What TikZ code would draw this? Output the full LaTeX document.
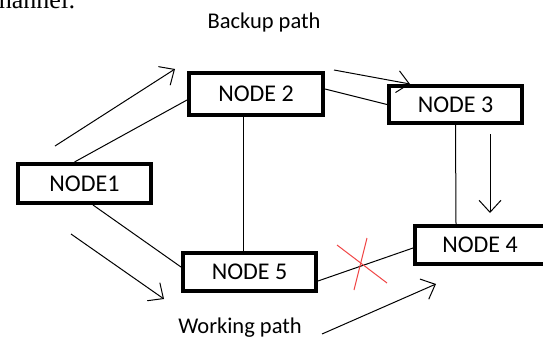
\documentclass[tikz,border=0pt]{standalone}
\usepackage{fontspec}
\setmainfont{Carlito}
\newfontfamily\pageserif{Liberation Serif}
\usetikzlibrary{arrows.meta}
\definecolor{crossred}{RGB}{240,70,70}
\tikzset{
  nodebox/.style={draw, line width=4pt, inner sep=0pt, font=\fontsize{24}{28}\selectfont},
  pathlabel/.style={font=\fontsize{22.5}{26}\selectfont},
  link/.style={line width=1pt},
  flow/.style={line width=1pt, -{Straight Barb[length=12pt,width=22pt]}},
  cross/.style={line width=1pt, draw=crossred}
}
\begin{document}
\begin{tikzpicture}[x=1pt,y=-1pt]
  \useasboundingbox (0,0) rectangle (543,338);
  \node[anchor=base east, font=\pageserif\fontsize{26}{30}\selectfont] (pagetext) at (79,8) {channel:};

  \node[nodebox, minimum width=133pt, minimum height=39pt] (n1) at (84.5,183.5) {NODE1};
  \node[nodebox, minimum width=134pt, minimum height=42pt] (n2) at (256,94) {NODE 2};
  \node[nodebox, minimum width=133pt, minimum height=37pt] (n3) at (455.5,104.5) {NODE 3};
  \node[nodebox, minimum width=130pt, minimum height=38pt] (n4) at (480,245) {NODE 4};
  \node[nodebox, minimum width=133pt, minimum height=38pt] (n5) at (249.5,272) {NODE 5};

  \node[pathlabel] (backup) at (264,22) {Backup path};
  \node[pathlabel] (working) at (240,328) {Working path};

  \draw[link] ([xshift=-10pt]n1.north) -- ([yshift=-6pt]n2.west);
  \draw[link] ([yshift=5pt]n2.east) -- (n3.west);
  \draw[link] ([xshift=-13pt]n2.south) -- ([xshift=-6.5pt]n5.north);
  \draw[link] (n3.south) -- ([xshift=-24pt]n4.north);
  \draw[link] ([xshift=8.5pt]n1.south) -- ([yshift=5pt]n5.west);
  \draw[link] ([yshift=-9pt]n5.east) -- ([yshift=-3pt]n4.west);

  \coordinate (bk1) at (55,146);  \coordinate (bk2) at (175,69);
  \coordinate (bk3) at (334,70);  \coordinate (bk4) at (410,84);
  \coordinate (bk5) at (490,134); \coordinate (bk6) at (490,213);
  \coordinate (wk1) at (71,234);  \coordinate (wk2) at (164,299);
  \coordinate (wk3) at (322,334); \coordinate (wk4) at (436,284);
  \draw[flow] (bk1) -- (bk2);
  \draw[flow] (bk3) -- (bk4);
  \draw[flow] (bk5) -- (bk6);
  \draw[flow] (wk1) -- (wk2);
  \draw[flow] (wk3) -- (wk4);

  \coordinate (x1) at (337,245); \coordinate (x2) at (387,283);
  \coordinate (x3) at (367,238); \coordinate (x4) at (354,290);
  \draw[cross] (x1) -- (x2);
  \draw[cross] (x3) -- (x4);
\end{tikzpicture}
\end{document}
